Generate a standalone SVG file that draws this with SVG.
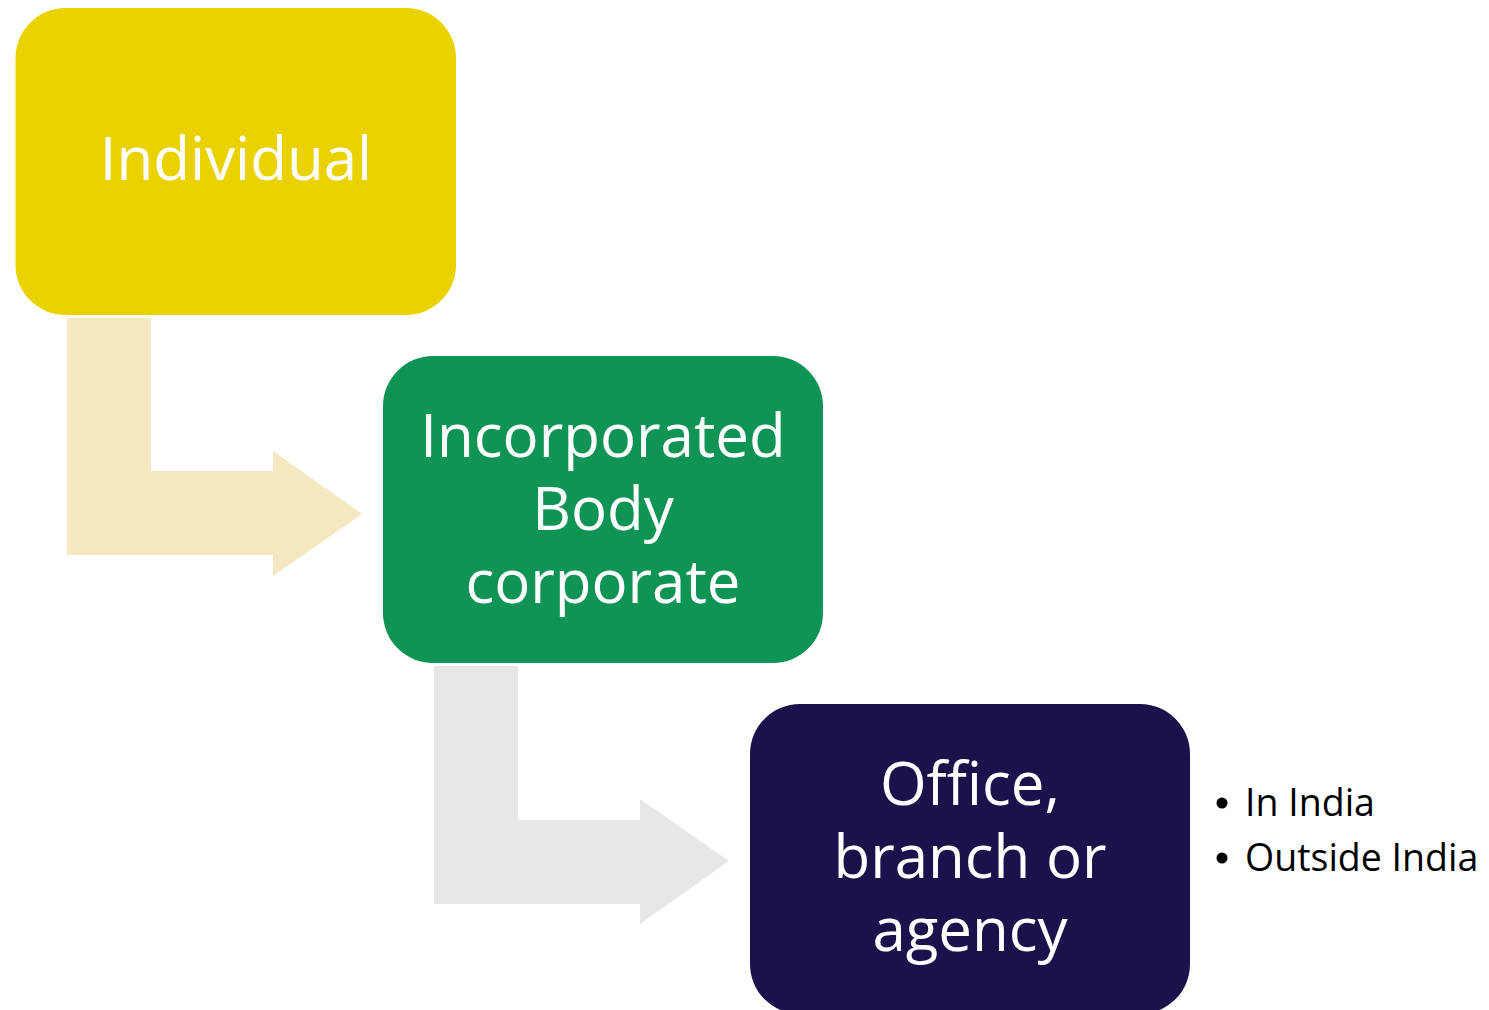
<svg xmlns="http://www.w3.org/2000/svg" width="1489" height="1010" viewBox="0 0 1489 1010">
<style>
.lbl{font-family:"Open Sans","Noto Sans",sans-serif;font-size:60px;fill:#ffffff;text-anchor:middle}
.bul{font-family:"Open Sans","Noto Sans",sans-serif;font-size:37.5px;fill:#000000}
</style>
<rect width="1489" height="1010" fill="#ffffff"/>
<g id="connectors">
<path d="M67,318 H151 V471 H273 V451 L362,514 L273,576 V555 H67 Z" fill="#F5E7BF"/>
<path d="M434,666 H518 V820 H640 V799 L729,861 L640,924 V904 H434 Z" fill="#E7E7E9"/>
</g>
<g id="individual">
<rect x="15.5" y="8" width="440.5" height="307" rx="50" fill="#E9D200"/>
<text class="lbl" x="236" y="180">Individual</text>
</g>
<g id="incorporated">
<rect x="383" y="356" width="440" height="307" rx="50" fill="#109456"/>
<text class="lbl" x="603" y="457">Incorporated</text>
<text class="lbl" x="603" y="530">Body</text>
<text class="lbl" x="603" y="603">corporate</text>
</g>
<g id="office">
<rect x="750" y="704" width="440" height="310" rx="50" fill="#1C114A"/>
<text class="lbl" x="970" y="805">Office,</text>
<text class="lbl" x="970" y="878">branch or</text>
<text class="lbl" x="970" y="951">agency</text>
</g>
<g id="bullets">
<circle cx="1222" cy="803" r="5.5" fill="#000"/>
<text class="bul" x="1245" y="816">In India</text>
<circle cx="1222" cy="858" r="5.5" fill="#000"/>
<text class="bul" x="1245" y="871">Outside India</text>
</g>
</svg>
